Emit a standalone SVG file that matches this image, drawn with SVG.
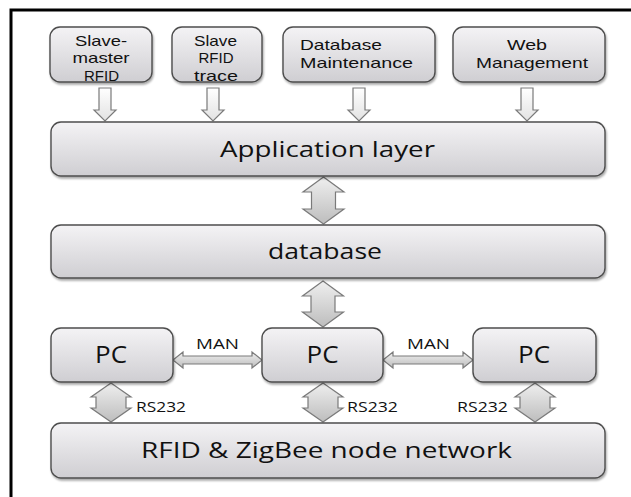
<svg xmlns="http://www.w3.org/2000/svg" width="631" height="497" viewBox="0 0 631 497">
<defs>
<linearGradient id="boxg" x1="0" y1="0" x2="0" y2="1">
<stop offset="0" stop-color="#f4f3f5"/>
<stop offset="1" stop-color="#cfced2"/>
</linearGradient>
<linearGradient id="arrg" x1="0" y1="0" x2="0" y2="1">
<stop offset="0" stop-color="#efefef"/>
<stop offset="1" stop-color="#bdbdbd"/>
</linearGradient>
<linearGradient id="downg" x1="0" y1="0" x2="0" y2="1">
<stop offset="0" stop-color="#ffffff"/>
<stop offset="1" stop-color="#e2e2e2"/>
</linearGradient>
<filter id="sh" x="-5%" y="-10%" width="115%" height="130%">
<feGaussianBlur in="SourceAlpha" stdDeviation="1.2"/>
<feOffset dx="1" dy="1.5" result="o"/>
<feComponentTransfer><feFuncA type="linear" slope="0.35"/></feComponentTransfer>
<feMerge><feMergeNode/><feMergeNode in="SourceGraphic"/></feMerge>
</filter>
</defs>
<style>
.box{fill:url(#boxg);stroke:#4d4d4d;stroke-width:1.4;filter:url(#sh)}
.arr{fill:url(#arrg);stroke:#7a7a7a;stroke-width:1.2}
.down{fill:url(#downg);stroke:#7a7a7a;stroke-width:1.2}
text{font-family:"Open Sans","Liberation Sans",sans-serif;fill:#111}
.s{font-family:"Liberation Sans","Open Sans",sans-serif;font-size:15px}
.m{text-anchor:middle}
.big{font-size:22px}
.pc{font-size:23px}
.lab{font-size:14px}
.frame{fill:none;stroke:#000;stroke-width:3}
</style>
<path class="frame" d="M11,497 V10 H631"/>

<g id="connectors">
<path class="down" d="M99,88 H111 V110 H116 L105,121 L94,110 H99 Z"/>
<path class="down" d="M207,88 H219 V110 H224 L213,121 L202,110 H207 Z"/>
<path class="down" d="M353,88 H365 V110 H370 L359,121 L348,110 H353 Z"/>
<path class="down" d="M521,88 H533 V110 H538 L527,121 L516,110 H521 Z"/>
<path class="arr" d="M323.5,177 L344,192 H335.5 V209 H344 L323.5,224 L303,209 H311.5 V192 H303 Z"/>
<path class="arr" d="M323,281 L343.5,296 H335 V312 H343.5 L323,327 L302.5,312 H311 V296 H302.5 Z"/>
<path class="arr" d="M173,360 L183,352 V356 H252 V352 L262,360 L252,368 V364 H183 V368 Z"/>
<path class="arr" d="M383,360 L393,352 V356 H463 V352 L473,360 L463,368 V364 H393 V368 Z"/>
<path class="arr" d="M111,383 L131,397 H126 V408 H131 L111,422 L91,408 H96 V397 H91 Z"/>
<path class="arr" d="M323,383 L343,397 H338 V408 H343 L323,422 L303,408 H308 V397 H303 Z"/>
<path class="arr" d="M535,383 L555,397 H550 V408 H555 L535,422 L515,408 H520 V397 H515 Z"/>
<text class="lab" x="196" y="349" textLength="43" lengthAdjust="spacingAndGlyphs">MAN</text>
<text class="lab" x="407" y="349" textLength="43" lengthAdjust="spacingAndGlyphs">MAN</text>
<text class="lab" x="136" y="412" textLength="50" lengthAdjust="spacingAndGlyphs">RS232</text>
<text class="lab" x="347" y="412" textLength="51" lengthAdjust="spacingAndGlyphs">RS232</text>
<text class="lab" x="457" y="412" textLength="51" lengthAdjust="spacingAndGlyphs">RS232</text>
</g>

<g id="slave-master">
<rect class="box" x="50" y="27" width="102" height="55" rx="10"/>
<text class="s" x="75" y="45.5" textLength="52" lengthAdjust="spacingAndGlyphs">Slave-</text>
<text class="s" x="72.5" y="63" textLength="57" lengthAdjust="spacingAndGlyphs">master</text>
<text class="s m" x="101.5" y="80.5">RFID</text>
</g>
<g id="slave-trace">
<rect class="box" x="172" y="27" width="90" height="55" rx="10"/>
<text class="s" x="194" y="45.5" textLength="43" lengthAdjust="spacingAndGlyphs">Slave</text>
<text class="s m" x="216" y="63">RFID</text>
<text class="s" x="194" y="80.5" textLength="44" lengthAdjust="spacingAndGlyphs">trace</text>
</g>
<g id="db-maint">
<rect class="box" x="283" y="27" width="152" height="55" rx="10"/>
<text class="s" x="300" y="49.5" textLength="82" lengthAdjust="spacingAndGlyphs">Database</text>
<text class="s" x="300" y="68" textLength="113" lengthAdjust="spacingAndGlyphs">Maintenance</text>
</g>
<g id="web">
<rect class="box" x="453" y="27" width="152" height="55" rx="10"/>
<text class="s" x="507" y="49.5" textLength="40" lengthAdjust="spacingAndGlyphs">Web</text>
<text class="s" x="476" y="68" textLength="112" lengthAdjust="spacingAndGlyphs">Management</text>
</g>
<g id="app">
<rect class="box" x="51" y="122" width="554" height="54" rx="10"/>
<text class="big" x="220" y="157" textLength="215" lengthAdjust="spacingAndGlyphs">Application layer</text>
</g>
<g id="database">
<rect class="box" x="51" y="225" width="554" height="53" rx="10"/>
<text class="big" x="268" y="259" textLength="114" lengthAdjust="spacingAndGlyphs">database</text>
</g>
<g id="pc1">
<rect class="box" x="51" y="328" width="122" height="54" rx="10"/>
<text class="pc" x="95" y="363" textLength="32" lengthAdjust="spacingAndGlyphs">PC</text>
</g>
<g id="pc2">
<rect class="box" x="262" y="328" width="121" height="54" rx="10"/>
<text class="pc" x="306.5" y="363" textLength="32" lengthAdjust="spacingAndGlyphs">PC</text>
</g>
<g id="pc3">
<rect class="box" x="473" y="328" width="123" height="54" rx="10"/>
<text class="pc" x="518" y="363" textLength="32" lengthAdjust="spacingAndGlyphs">PC</text>
</g>
<g id="network">
<rect class="box" x="51" y="423" width="554" height="55" rx="10"/>
<text class="big" x="141" y="458" textLength="371" lengthAdjust="spacingAndGlyphs">RFID &amp; ZigBee node network</text>
</g>
</svg>
